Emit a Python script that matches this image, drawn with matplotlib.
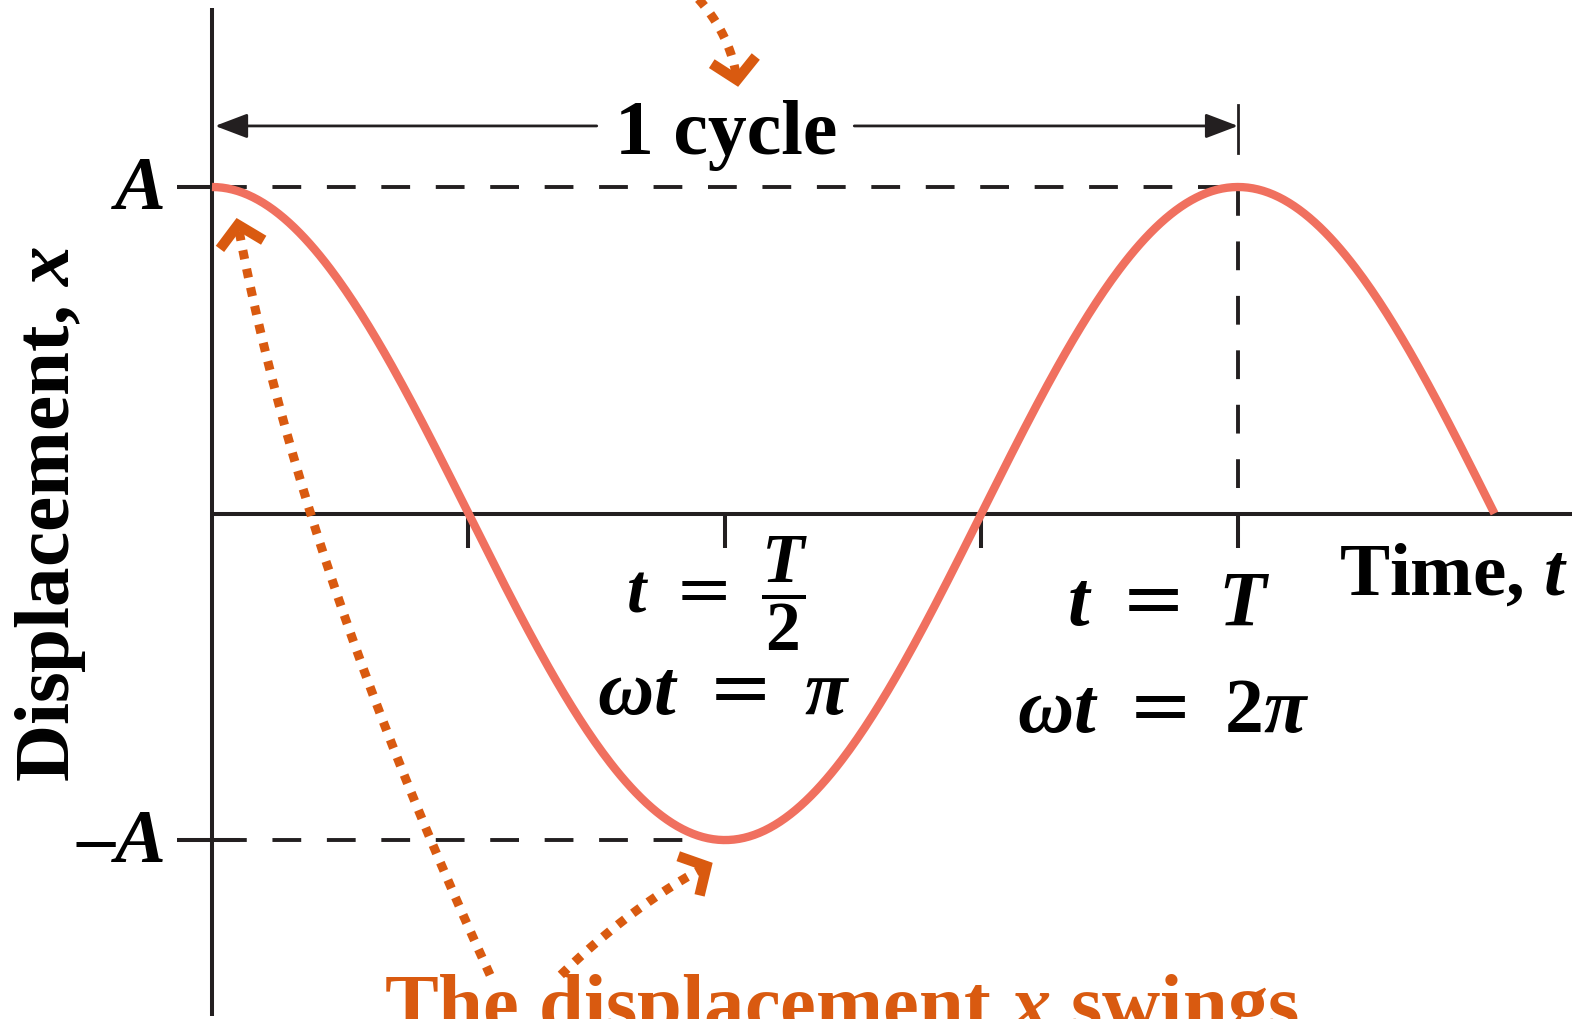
import numpy as np
import matplotlib.pyplot as plt

plt.rcParams["font.family"] = ["Liberation Serif", "DejaVu Serif"]
plt.rcParams["font.weight"] = "bold"
plt.rcParams["mathtext.fontset"] = "custom"
plt.rcParams["mathtext.rm"] = "DejaVu Serif:weight=normal"
plt.rcParams["mathtext.it"] = "Liberation Serif:bold:italic"
plt.rcParams["mathtext.bf"] = "Liberation Serif:bold"

# chart values (units of period T and amplitude A)
period = 1.0
amplitude = 1.0
t_end = 1.25
x_ticks = [0.25, 0.5, 0.75, 1.0]
y_ticks = [amplitude, -amplitude]
y_tick_labels = ["$\\mathit{A}$", "\u2013$\\mathit{A}$"]

curve_color = "#f0705f"
note_color = "#d95a10"
ink = "#231f20"

t = np.linspace(0, t_end * period, 500)
x = amplitude * np.cos(2 * np.pi * t / period)

fig = plt.figure(figsize=(15.85, 10.19), dpi=100)
ax = fig.add_axes([0, 0, 1, 1])
ax.set_xlim(-0.2066, 1.3382)
ax.set_ylim(-1.548, 1.5727)
ax.axis("off")

# axes
axis_lw = 2.9
ax.plot([0, 0], [-1.539, 1.548], color=ink, lw=axis_lw, solid_capstyle="butt")
ax.plot([0, 1.3255], [0, 0], color=ink, lw=axis_lw, solid_capstyle="butt")
for xt in x_ticks:
    ax.plot([xt, xt], [0, -0.107], color=ink, lw=axis_lw, solid_capstyle="butt")
ax.plot([-0.034, 0], [amplitude, amplitude], color=ink, lw=axis_lw, solid_capstyle="butt")
ax.plot([-0.034, 0.027], [-amplitude, -amplitude], color=ink, lw=axis_lw, solid_capstyle="butt")
for yv, lab in zip(y_ticks, y_tick_labels):
    ax.text(-0.046, yv - 0.01, lab, ha="right", va="center", fontsize=55, color="black")

# reference dashed lines
dash = (0, (7.4, 6.6))
ax.plot([0.006, period], [amplitude, amplitude], color=ink, lw=2.8, ls=dash, dash_capstyle="butt")
ax.plot([0.006, period / 2], [-amplitude, -amplitude], color=ink, lw=2.8, ls=dash, dash_capstyle="butt")
ax.plot([period, period], [amplitude, 0.06], color=ink, lw=2.8, ls=dash, dash_capstyle="butt")

# the curve
ax.plot(t, x, color=curve_color, lw=6, solid_capstyle="butt", zorder=3)

# 1 cycle arrow
head = dict(arrowstyle="-|>,head_length=1.0,head_width=0.38", color=ink, lw=2.0,
            mutation_scale=20, shrinkA=0, shrinkB=0)
ax.annotate("", xy=(0.003, 1.187), xytext=(0.375, 1.187), arrowprops=head)
ax.annotate("", xy=(period, 1.187), xytext=(0.626, 1.187), arrowprops=head)
ax.plot([period, period], [1.105, 1.25], color=ink, lw=2.0)
ax.text(0.501, 1.101, "1 cycle", ha="center", va="baseline", fontsize=56, color="black")

# axis labels
ax.text(1.098, -0.247, "Time, $\\mathit{t}$", ha="left", va="baseline", fontsize=54, color="black")
ax.text(-0.157, 0.0, "Displacement, $\\mathit{x}$", ha="center", va="center",
        rotation=90, fontsize=57, color="black")

# time markers
ax.text(0.492, -0.245, "$t\\ =\\ \\dfrac{T}{\\mathbf{2}}$", ha="center", va="center", fontsize=50)
ax.text(0.499, -0.556, "$\\omega t\\ =\\ \\pi$", ha="center", va="center", fontsize=56)
ax.text(0.932, -0.284, "$t\\ =\\ T$", ha="center", va="center", fontsize=56)
ax.text(0.927, -0.611, "$\\omega t\\ =\\ \\mathbf{2}\\pi$", ha="center", va="center", fontsize=56)


def dotted_arrow(p0, p1, p2):
    p0, p1, p2 = np.array(p0), np.array(p1), np.array(p2)
    s = np.linspace(0, 1, 200)[:, None]
    pts = (1 - s) ** 2 * p0 + 2 * (1 - s) * s * p1 + s ** 2 * p2
    ax.plot(pts[:, 0], pts[:, 1], color=note_color, lw=6.5, ls=(0, (1, 1.1)),
            dash_capstyle="butt", zorder=4)
    tr = ax.transData
    tip = tr.transform(p2)
    d = tip - tr.transform(pts[-15])
    d = d / np.hypot(*d)
    arms = []
    for ang in (np.radians(48), -np.radians(48)):
        r = np.array([[np.cos(ang), -np.sin(ang)], [np.sin(ang), np.cos(ang)]])
        arms.append(tip - 30 * (r @ d))
    chev = tr.inverted().transform(np.array([arms[0], tip, arms[1]]))
    ax.plot(chev[:, 0], chev[:, 1], color=note_color, lw=7.5, solid_joinstyle="miter",
            solid_capstyle="butt", zorder=4)


dotted_arrow((0.466, 1.603), (0.505, 1.481), (0.5117, 1.328))
dotted_arrow((0.271, -1.413), (0.086, -0.142), (0.0253, 0.884))
dotted_arrow((0.340, -1.413), (0.410, -1.200), (0.482, -1.080))

ax.text(0.168, -1.582, "The displacement $\\mathit{x}$ swings", ha="left", va="baseline",
        fontsize=58, color=note_color)

fig.savefig("out.png", dpi=100)
